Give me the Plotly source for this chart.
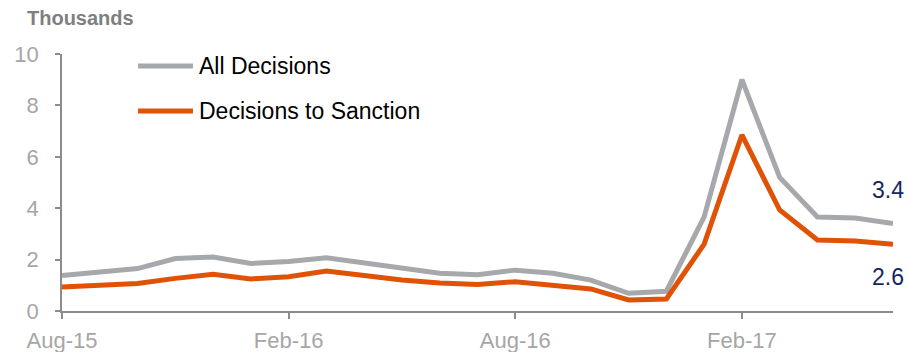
import plotly.graph_objects as go

# Monthly decisions, in thousands
months = ["Aug-15", "Sep-15", "Oct-15", "Nov-15", "Dec-15", "Jan-16", "Feb-16",
          "Mar-16", "Apr-16", "May-16", "Jun-16", "Jul-16", "Aug-16", "Sep-16",
          "Oct-16", "Nov-16", "Dec-16", "Jan-17", "Feb-17", "Mar-17", "Apr-17",
          "May-17", "Jun-17"]
all_decisions = [1.38, 1.52, 1.65, 2.04, 2.10, 1.85, 1.93, 2.07, 1.87, 1.66,
                 1.47, 1.41, 1.59, 1.47, 1.20, 0.69, 0.77, 3.66, 9.00, 5.20,
                 3.66, 3.62, 3.40]
sanction_decisions = [0.93, 1.00, 1.07, 1.27, 1.43, 1.25, 1.33, 1.56, 1.39, 1.21,
                      1.09, 1.03, 1.14, 1.00, 0.86, 0.43, 0.47, 2.60, 6.85, 3.93,
                      2.76, 2.72, 2.60]
tick_months = ["Aug-15", "Feb-16", "Aug-16", "Feb-17"]
y_ticks = [0, 2, 4, 6, 8, 10]

GREY = "#a7a8ab"
ORANGE = "#e05206"
NAVY = "#13275e"
TICK_GREY = "#a6a6a6"
AXIS_GREY = "#8c8c8c"
FONT = "Liberation Sans, Arial, sans-serif"

fig = go.Figure()
fig.add_trace(go.Scatter(x=months, y=all_decisions, mode="lines",
                         line=dict(color=GREY, width=5), name="All Decisions",
                         showlegend=False, cliponaxis=False))
fig.add_trace(go.Scatter(x=months, y=sanction_decisions, mode="lines",
                         line=dict(color=ORANGE, width=5), name="Decisions to Sanction",
                         showlegend=False, cliponaxis=False))

# Hand-drawn legend: long line swatches with labels
legend_items = [("All Decisions", GREY, 0.953), ("Decisions to Sanction", ORANGE, 0.778)]
for label, color, ypos in legend_items:
    fig.add_shape(type="line", xref="paper", yref="paper", x0=0.0915, x1=0.1576,
                  y0=ypos, y1=ypos, line=dict(color=color, width=5))
    fig.add_annotation(xref="paper", yref="paper", x=0.1625, y=ypos, text=label,
                       showarrow=False, xanchor="left", yanchor="middle",
                       font=dict(family=FONT, size=23, color="#000000"))

# End-of-series value labels
fig.add_annotation(x=months[-1], y=all_decisions[-1], text=f"{all_decisions[-1]:.1f}",
                   showarrow=False, xanchor="right", yanchor="middle",
                   xshift=13, yshift=34, font=dict(family=FONT, size=23, color=NAVY))
fig.add_annotation(x=months[-1], y=sanction_decisions[-1], text=f"{sanction_decisions[-1]:.1f}",
                   showarrow=False, xanchor="right", yanchor="middle",
                   xshift=13, yshift=-33, font=dict(family=FONT, size=23, color=NAVY))

# Unit label above the y axis
fig.add_annotation(xref="paper", yref="paper", x=-0.0445, y=1.141, text="<b>Thousands</b>",
                   showarrow=False, xanchor="left", yanchor="middle",
                   font=dict(family=FONT, size=20, color="#7f7f7f"))

fig.update_layout(
    width=909, height=352,
    margin=dict(l=62, r=16, t=54, b=41),
    paper_bgcolor="white", plot_bgcolor="white",
    showlegend=False,
    font=dict(family=FONT),
)
fig.update_xaxes(
    type="category", range=[0, len(months) - 1], automargin=False,
    tickmode="array", tickvals=tick_months, ticktext=tick_months,
    ticks="outside", ticklen=6, tickcolor=AXIS_GREY, tickwidth=1.5,
    ticklabelstandoff=3,
    showline=True, linecolor=AXIS_GREY, linewidth=1.5,
    showgrid=False, zeroline=False,
    tickfont=dict(family=FONT, size=22, color=TICK_GREY),
)
fig.update_yaxes(
    range=[0, 10], tickmode="array", tickvals=y_ticks, automargin=False,
    ticks="outside", ticklen=5, tickcolor=AXIS_GREY, tickwidth=1.5,
    ticklabelstandoff=12,
    showline=True, linecolor=AXIS_GREY, linewidth=1.5,
    showgrid=False, zeroline=False,
    tickfont=dict(family=FONT, size=22, color=TICK_GREY),
)

fig.write_html("out.html")
